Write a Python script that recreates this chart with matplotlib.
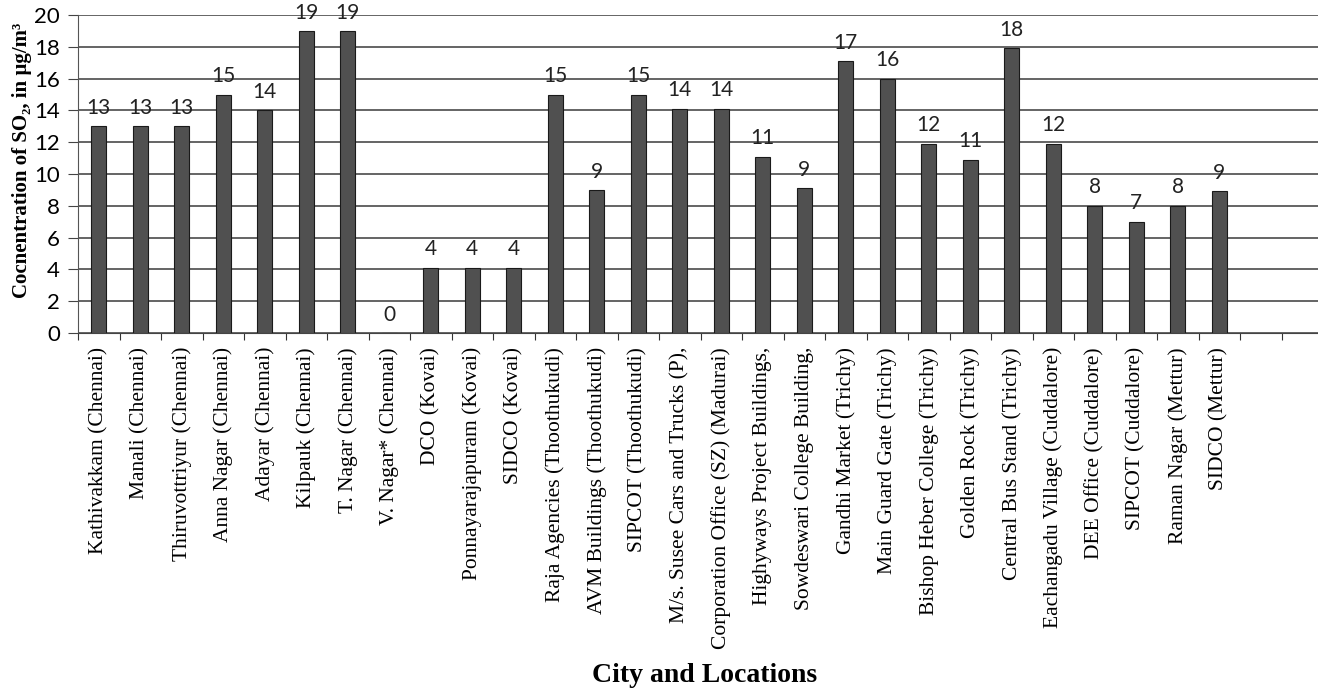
import matplotlib
matplotlib.use('Agg')
import matplotlib.pyplot as plt
import numpy as np

locations = [
    "Kathivakkam (Chennai)", "Manali (Chennai)", "Thiruvottriyur (Chennai)",
    "Anna Nagar (Chennai)", "Adayar (Chennai)", "Kilpauk (Chennai)",
    "T. Nagar (Chennai)", "V. Nagar* (Chennai)", "DCO (Kovai)",
    "Ponnayarajapuram (Kovai)", "SIDCO (Kovai)", "Raja Agencies (Thoothukudi)",
    "AVM Buildings (Thoothukudi)", "SIPCOT (Thoothukudi)",
    "M/s. Susee Cars and Trucks (P),", "Corporation Office (SZ) (Madurai)",
    "Highyways Project Buildings,", "Sowdeswari College Building,",
    "Gandhi Market (Trichy)", "Main Guard Gate (Trichy)",
    "Bishop Heber College (Trichy)", "Golden Rock (Trichy)",
    "Central Bus Stand (Trichy)", "Eachangadu Village (Cuddalore)",
    "DEE Office (Cuddalore)", "SIPCOT (Cuddalore)", "Raman Nagar (Mettur)",
    "SIDCO (Mettur)",
]
so2 = [13.0, 13.0, 13.0, 15.0, 14.0, 19.0, 19.0, 0.0, 4.1, 4.1, 4.1, 15.0,
       9.0, 15.0, 14.1, 14.1, 11.1, 9.1, 17.1, 16.0, 11.9, 10.9, 17.9, 11.9,
       8.0, 7.0, 8.0, 8.9]
yticks = list(range(0, 21, 2))

W, H = 1318, 690
fig = plt.figure(figsize=(W / 100, H / 100), dpi=100)
left_px, bottom_px, top_px = 78, 333, 15
ax = fig.add_axes([left_px / W, 1 - bottom_px / H, 1 - left_px / W, (bottom_px - top_px) / H])

n = len(locations)
x = np.arange(n)
ax.bar(x, so2, width=0.37, color='#505050', edgecolor='#1a1a1a', linewidth=0.8, zorder=3)
for xi, v in zip(x, so2):
    ax.annotate(f'{round(v)}', (xi, v), xytext=(0, 6), textcoords='offset points',
                ha='center', va='bottom', fontsize=15, family='Lato', color='#222222')

slot_px = 41.5
ax.set_xlim(-0.5, -0.5 + (W - left_px) / slot_px)
ax.set_ylim(0, 20)
ax.set_yticks(yticks)
ax.set_xticks(np.arange(-0.5, n + 1, 1))
ax.set_xticklabels([])
ax.set_xticks(x, minor=True)
ax.set_xticklabels(locations, minor=True, rotation=90, fontsize=15.5,
                   family='Liberation Serif', va='top', ha='center')
ax.tick_params(axis='x', which='minor', length=0, pad=10)
ax.tick_params(axis='x', which='major', length=5, color='#333333', direction='out')
ax.tick_params(axis='y', length=7, pad=6, color='#444444', labelsize=16)
for lab in ax.get_yticklabels():
    lab.set_family('Lato')
ax.grid(axis='y', color='#3a3a3a', lw=1.1, zorder=0)
for s in ['top', 'right']:
    ax.spines[s].set_visible(False)
ax.spines['left'].set_color('#555555')
ax.spines['left'].set_linestyle((0, (2, 1)))
ax.spines['bottom'].set_color('#444444')

fig.text(22 / W, 1 - 160 / H, 'Cocnentration of SO\u2082, in \u00b5g/m\u00b3', rotation=90,
         ha='center', va='center', fontsize=15, fontweight='bold',
         family=['Liberation Serif', 'DejaVu Serif'])
fig.text(705 / W, 1 - 675 / H, 'City and Locations', ha='center', va='center',
         fontsize=20, fontweight='bold', family='Liberation Serif')

fig.savefig('out.png', dpi=100)
